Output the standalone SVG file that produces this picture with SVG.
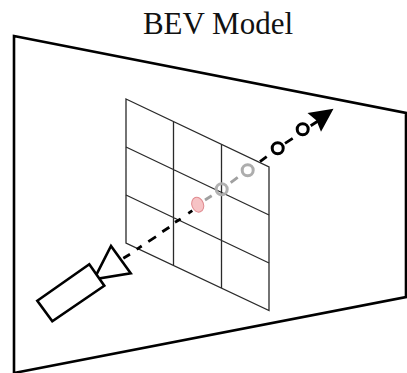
<svg xmlns="http://www.w3.org/2000/svg" width="407" height="373" viewBox="0 0 407 373">
<style>
.frame{fill:none;stroke:#000;stroke-width:2.6}
.grid{fill:none;stroke:#2a2a2a;stroke-width:1.3}
.cam{fill:#fff;stroke:#000;stroke-width:2.6;stroke-linejoin:miter}
.dash{fill:none;stroke:#000;stroke-width:2.8}
.grayray{fill:none;stroke:#a0a0a0;stroke-width:2.8}
.ring{fill:none;stroke:#000;stroke-width:3}
.grayring{fill:none;stroke:#adadad;stroke-width:3}
</style>
<rect width="407" height="373" fill="#fff"/>
<text x="218" y="33.500" font-family="Liberation Serif, serif" font-size="31" text-anchor="middle" fill="#111">BEV Model</text>
<g id="frame"><polygon class="frame" points="14,36 406,113 406,297 14,373"/></g>
<g id="grid">
<polygon class="grid" points="126,99 269,167 269,310.500 126,243"/>
<path class="grid" d="M173.500,122V265M221.500,144.500V288M126,147L269,215M126,195L269,263"/>
</g>
<g id="connectors">
<path class="dash" d="M123.300,258.300L130,254.300M136.700,249.300L141.700,246M148.300,241.700L156,236.700M162.300,231.700L169.300,227.300M175,222.300L180.700,219M188.300,213.300L192.300,210.700"/>
<path class="grayray" d="M205,200L211.700,195.700M230.700,182.700L237.700,177.300"/>
<path class="dash" d="M260,161.700L266.700,156.700M285,143.300L292.700,138.300M310.700,125.700L318,121"/>
<polygon points="333.500,108.800 321,131.700 316.500,120.500 307.500,113" fill="#000"/>
</g>
<g id="points">
<ellipse cx="197.700" cy="204.700" rx="5.800" ry="7.600" transform="rotate(-20 197.700 204.700)" fill="#f6c3c5" stroke="#e08a8f" stroke-width="1"/>
<circle cx="221.700" cy="189.300" r="5.500" class="grayring" stroke-opacity="0.95"/>
<circle cx="247.700" cy="170.300" r="5.500" class="grayring"/>
<circle cx="277.700" cy="148.300" r="5.500" class="ring"/>
<circle cx="302.700" cy="129.300" r="5.500" class="ring"/>
</g>
<g id="camera">
<polygon class="cam" points="94,279.300 111,246 130.700,273.300"/>
<polygon class="cam" points="37.300,300.700 89.300,264.300 104.300,285.700 52.300,321.300"/>
</g>
</svg>
